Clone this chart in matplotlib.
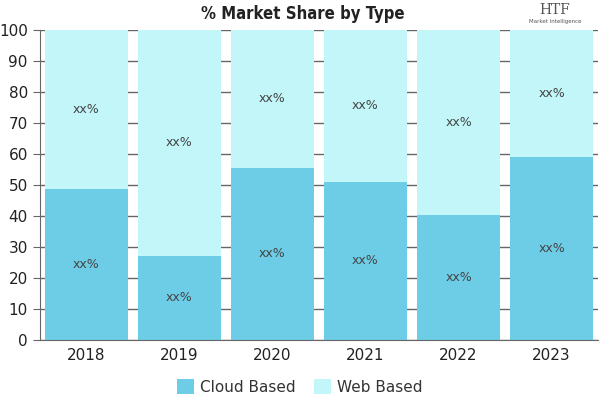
import numpy as np
import matplotlib
matplotlib.use("Agg")
from matplotlib import pyplot as plt

years = ["2018", "2019", "2020", "2021", "2022", "2023"]
cloud = [48.7, 27.1, 55.5, 51.0, 40.3, 59.0]
web = [100 - v for v in cloud]
cloud_labels = ["xx%"] * 6
web_labels = ["xx%"] * 6

c_cloud = "#6dcde6"
c_web = "#c2f6f8"

fig = plt.figure(figsize=(6, 4), dpi=100)
ax = fig.add_axes([0.066, 0.15, 0.931, 0.775])

x = np.arange(len(years))
ax.set_axisbelow(True)
ax.yaxis.grid(True, color="#666666", lw=1)
b1 = ax.bar(x, cloud, width=0.89, color=c_cloud, label="Cloud Based")
b2 = ax.bar(x, web, width=0.89, bottom=cloud, color=c_web, label="Web Based")

for i in range(len(years)):
    ax.text(x[i], cloud[i] / 2, cloud_labels[i], ha="center", va="center",
            fontsize=9, color="#444444")
    ax.text(x[i], cloud[i] + web[i] / 2, web_labels[i], ha="center", va="center",
            fontsize=9, color="#444444")

ax.set_xlim(-0.5, len(years) - 0.5)
ax.set_ylim(0, 100)
ax.set_yticks(range(0, 101, 10))
ax.set_xticks(x)
ax.set_xticklabels(years)
ax.tick_params(axis="y", length=5, color="#666666", labelsize=11, labelcolor="#222222")
ax.tick_params(axis="x", length=0, labelsize=11, labelcolor="#222222", pad=6)
for s in ["top", "right"]:
    ax.spines[s].set_visible(False)
ax.spines["left"].set_color("#666666")
ax.spines["bottom"].set_color("#666666")

fig.text(0.505, 0.965, "% Market Share by Type", ha="center", va="center",
         fontsize=12, fontweight="heavy", fontstretch="condensed",
         family=["DejaVu Sans"], color="#222222")
fig.text(0.925, 0.975, "HTF", ha="center", va="center", fontsize=10,
         family="DejaVu Serif", color="#555555")
fig.text(0.925, 0.945, "Market Intelligence", ha="center", va="center", fontsize=4,
         color="#555555")

fig.legend(handles=[b1, b2], loc="center", bbox_to_anchor=(0.5, 0.033), ncol=2,
           frameon=False, fontsize=11, handlelength=1.1, handleheight=1.1,
           columnspacing=1.2, handletextpad=0.4, labelcolor="#333333")

fig.savefig("out.png", dpi=100)
